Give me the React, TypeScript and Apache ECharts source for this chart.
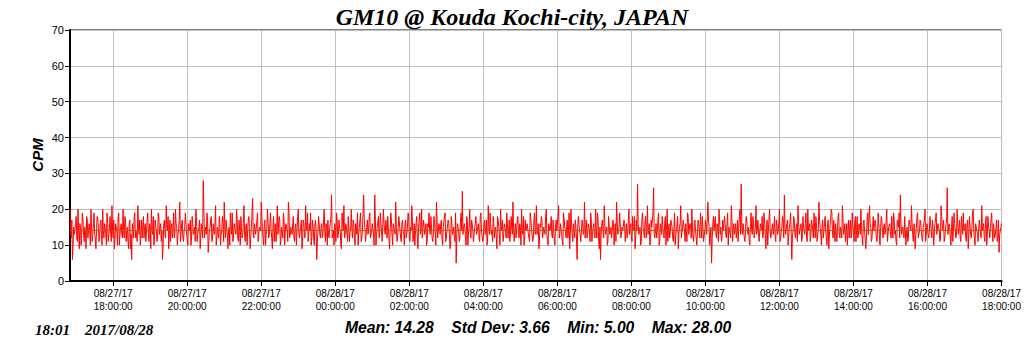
import React, { useEffect, useRef } from "react";
import * as echarts from "echarts";

// Time axis: minutes relative to 08/27/17 18:00:00, one sample every minute
const START_MIN = -70; // 16:50 on 08/27
const STEP_MIN = 1;
const AXIS_MIN = -70;
const AXIS_MAX = 1440;
const TICK_MINUTES = [0, 120, 240, 360, 480, 600, 720, 840, 960, 1080, 1200, 1320, 1440];

const TITLE = "GM10 @ Kouda Kochi-city, JAPAN";
const Y_NAME = "CPM";
const STATS = "Mean: 14.28    Std Dev: 3.66    Min: 5.00    Max: 28.00";
const STAMP = "18:01    2017/08/28";
const MEAN = 14.28;

// counts at even minutes (16:50, 16:52, ...)
const even1 = [20,12,6,15,13,18,11,14,16,10,19,13,15,9,17,12,14,20,11,16,13,9,18,15,12,17,10,14,16,13,
  19,11,15,13,21,12,9,16,14,18,10,15,13,20,12,17,14,11,16,9,6,15,18,12,14,21,13,10,17,15,
  12,16,14,19,11,15,20,13,10,17,14,12,18,15,11,6,16,13,21,14,9,17,15,12,19,13,16,10,14,22,
  13,17,11,15,19,12,16,14,10,18,13,15,20,11,14,17,9,16,28,12,15,19,8,14,17,11,16,13,21,12,
  15,18,10,14,16,22,12,17,9,15,19,13,11,16,14,20,12,17,10,15,13,21,11,16,14,18,9,15,23,12];
const even2 = [16,13,19,11,15,22,14,10,17,13,20,12,16,14,9,18,15,11,21,13,17,12,15,19,10,16,14,22,12,15,
  13,18,11,16,14,20,12,15,9,17,13,21,14,11,16,19,12,15,10,17,6,14,18,12,16,13,20,11,15,17,
  12,16,24,13,10,15,19,12,17,14,9,16,21,13,15,11,18,14,20,12,16,10,15,19,13,17,11,14,24,15,
  11,17,14,19,12,16,13,24,10,15,18,13,16,11,20,14,17,12,15,9,19,13,16,14,22,11,15,18,12,16,
  14,10,17,13,19,12,15,21,11,16,14,18,9,15,13,20,12,17,14,10,16,19,13,15,11,18,14,22,12,16];
const even3 = [13,17,10,15,19,12,14,16,9,18,13,15,11,5,16,14,12,19,25,13,15,10,17,14,20,12,16,11,15,18,
  13,16,11,19,14,12,17,15,10,21,13,16,14,18,12,15,9,17,13,20,15,11,16,14,19,12,17,13,15,22,
  11,16,14,18,12,15,20,13,10,17,14,16,12,19,15,11,17,13,21,14,9,16,18,12,15,13,20,11,16,14,
  18,12,15,10,17,14,21,13,16,11,19,15,12,17,14,9,20,13,16,12,15,6,18,14,11,17,13,22,15,12,
  16,14,19,11,15,13,20,12,17,9,6,16,14,21,13,15,11,18,14,12,17,10,16,22,13,15,19,12,14,17];
const even4 = [11,16,13,20,15,12,18,14,9,17,27,13,15,11,19,14,16,12,21,13,10,17,15,26,12,16,14,19,11,15,
  18,13,16,10,20,14,12,17,15,11,19,13,16,9,15,21,12,17,14,16,11,18,13,15,20,12,16,14,10,17,
  14,19,12,15,11,17,13,22,15,10,5,16,14,18,12,15,20,13,11,17,14,16,12,19,15,13,21,11,16,14,
  12,17,15,20,27,13,16,11,18,14,15,10,19,13,16,12,21,14,17,11,15,18,13,16,9,17,14,20,12,15,
  13,18,11,16,14,20,12,15,17,24,13,16,10,15,19,6,14,17,12,16,21,13,15,11,18,14,16,12,20,15];
const even5 = [11,17,14,19,12,16,13,22,15,10,17,14,18,12,16,9,15,20,13,17,11,16,14,19,12,15,21,13,16,14,
  10,17,15,12,19,14,16,11,18,13,15,20,12,16,14,9,17,13,21,15,12,18,14,16,11,19,13,15,17,12,
  16,14,20,11,15,13,18,12,17,14,10,16,19,24,13,15,12,18,14,11,17,15,21,13,16,9,15,19,12,17,
  14,11,16,20,13,15,12,18,14,17,10,16,19,13,15,11,21,14,17,12,16,26,13,15,10,18,14,16,12,20,
  13,17,11,15,19,14,12,16,9,18,13,15,20,12,16,14,11,17,13,21,15,12,16,10,18,14,15,19,11,16,
  13,17,12,8,14,16];

// counts at odd minutes (16:51, 16:53, ...)
const odd1 = [14,17,10,13,16,12,20,9,15,13,17,11,14,18,12,16,10,15,13,19,12,14,17,11,16,13,20,12,15,10,
  16,13,18,11,14,17,12,15,10,19,13,16,12,14,18,11,15,9,17,13,16,12,19,14,11,15,17,13,12,18,
  15,11,17,13,16,9,14,18,12,15,11,19,13,16,14,10,17,12,15,18,13,11,16,14,12,20,15,13,17,11,
  16,12,14,19,13,10,15,17,12,16,14,11,18,13,15,9,16,12,20,14,13,17,11,15,18,12,14,16,10,15,
  12,16,13,18,11,15,17,13,14,10,16,19,12,15,13,17,11,14,18,12,16,13,15,10,17,14,12,19,13,16];
const odd2 = [13,17,11,15,14,18,12,16,10,14,17,13,19,12,15,11,16,14,13,18,10,15,12,17,14,16,11,19,13,14,
  16,12,15,10,18,13,14,17,11,16,12,15,19,13,14,10,17,12,16,14,11,18,13,15,12,17,14,16,10,13,
  15,18,12,14,16,11,17,13,15,10,19,14,12,16,13,18,11,15,14,17,12,16,13,10,15,19,12,14,17,11,
  15,13,18,12,14,16,10,17,13,15,12,19,14,11,16,13,15,18,12,14,17,10,16,13,15,12,18,14,11,17,
  13,16,12,15,18,11,14,17,13,10,16,12,15,19,14,12,17,13,16,11,15,14,18,12,13,16,10,17,14,15];
const odd3 = [16,12,15,18,11,14,17,13,10,16,14,12,19,13,15,11,17,14,13,16,12,18,10,15,13,17,14,11,16,13,
  15,12,18,14,11,16,13,17,12,15,19,13,11,16,14,12,18,15,10,14,17,13,15,12,16,14,11,18,13,15,
  14,12,17,13,16,10,15,18,12,14,16,13,11,17,15,12,19,14,13,16,11,15,17,12,14,18,13,10,16,15,
  13,17,11,15,14,18,12,16,13,10,17,14,15,12,19,13,16,11,14,17,12,15,18,13,11,16,14,12,17,13,
  15,11,17,13,16,12,14,19,11,15,13,17,12,16,14,10,18,13,15,12,16,14,11,17,13,19,12,15,14,16];
const odd4 = [14,12,17,13,16,11,15,18,12,14,16,13,10,17,15,12,18,14,13,16,11,15,19,13,14,12,17,10,16,13,
  15,12,18,14,11,16,13,17,12,15,10,14,18,13,16,12,15,17,11,14,19,13,16,12,15,11,17,14,13,16,
  12,15,18,11,14,16,13,17,10,15,12,18,14,13,16,11,17,15,12,14,18,13,16,10,15,12,17,14,13,16,
  14,11,18,13,15,16,12,14,17,13,11,16,14,18,12,15,13,17,11,16,14,12,19,13,15,10,17,14,12,16,
  15,12,17,13,16,11,14,18,12,15,13,17,10,16,14,12,18,13,15,11,17,14,16,12,15,13,19,11,14,16];
const odd5 = [13,16,12,15,18,11,14,17,13,15,12,16,14,10,17,13,15,19,12,14,16,11,18,13,15,12,17,14,11,16,
  14,12,17,13,15,11,18,14,12,16,13,15,10,17,14,12,19,13,16,11,15,14,17,12,13,16,10,18,14,15,
  13,17,11,15,16,12,14,19,13,11,17,15,12,16,14,13,18,10,15,12,17,14,16,11,15,13,18,12,14,16,
  12,15,17,11,16,13,14,18,12,15,10,17,13,16,14,12,18,15,11,14,17,13,16,12,15,11,19,14,13,16,
  15,12,18,13,14,16,11,17,13,15,12,19,14,10,16,13,15,17,12,14,16,11,18,13,15,12,17,14,16,12,
  15,11,17,13,15];

const EVEN_VALUES = [...even1, ...even2, ...even3, ...even4, ...even5];
const ODD_VALUES = [...odd1, ...odd2, ...odd3, ...odd4, ...odd5];

function pad(n: number) {
  return n < 10 ? "0" + n : String(n);
}
function fmtTick(v: number) {
  const total = 18 * 60 + v;
  const day = 27 + Math.floor(total / 1440);
  const hh = Math.floor((total % 1440) / 60);
  const mm = total % 60;
  return "08/" + pad(day) + "/17\n" + pad(hh) + ":" + pad(mm) + ":00";
}

export default function App() {
  const ref = useRef<HTMLDivElement>(null);
  useEffect(() => {
    if (!ref.current) return;
    const chart = echarts.init(ref.current, null, { renderer: "svg" });
    const values: number[] = [];
    EVEN_VALUES.forEach((v, i) => {
      values.push(v);
      if (i < ODD_VALUES.length) values.push(ODD_VALUES[i]);
    });
    const data = values.map((v, i) => [START_MIN + i * STEP_MIN, v]);
    chart.setOption({
      animation: false,
      backgroundColor: "#ffffff",
      grid: {
        left: 70,
        right: 22,
        top: 30,
        bottom: 70,
        show: true,
        borderColor: "#000000",
        borderWidth: 1,
        backgroundColor: "transparent",
      },
      xAxis: {
        type: "value",
        min: AXIS_MIN,
        max: AXIS_MAX,
        axisLine: { show: true, onZero: false, lineStyle: { color: "#000", width: 2 } },
        axisTick: {
          show: true,
          length: 5,
          lineStyle: { color: "#000" },
          customValues: TICK_MINUTES,
        },
        axisLabel: {
          customValues: TICK_MINUTES,
          formatter: (v: number) => fmtTick(v),
          color: "#000",
          fontFamily: "Liberation Sans, Arial, sans-serif",
          fontSize: 10,
          lineHeight: 13,
          margin: 6,
        },
        splitLine: { show: true, lineStyle: { color: "#c0c0c0", width: 1 } },
      },
      yAxis: {
        type: "value",
        min: 0,
        max: 70,
        interval: 10,
        axisLine: { show: true, onZero: false, lineStyle: { color: "#000", width: 2 } },
        axisTick: { show: true, length: 5, lineStyle: { color: "#000" } },
        axisLabel: {
          color: "#000",
          fontFamily: "Liberation Sans, Arial, sans-serif",
          fontSize: 11,
          margin: 6,
        },
        splitLine: { show: true, lineStyle: { color: "#c0c0c0", width: 1 } },
      },
      series: [
        {
          type: "line",
          data,
          showSymbol: false,
          symbol: "none",
          lineStyle: { color: "#ff0000", width: 1 },
          z: 3,
          markLine: {
            silent: true,
            symbol: "none",
            label: { show: false },
            lineStyle: { color: "#b06010", width: 1, type: "solid" },
            data: [{ yAxis: MEAN }],
            z: 4,
          },
        },
      ],
      graphic: [
        {
          type: "text",
          x: 512,
          y: 17,
          style: {
            text: TITLE,
            fontFamily: "Liberation Serif, Times New Roman, serif",
            fontSize: 24,
            fontWeight: "bold",
            fontStyle: "italic",
            fill: "#000",
            align: "center",
            verticalAlign: "middle",
          },
        },
        {
          type: "text",
          x: 37,
          y: 155,
          rotation: Math.PI / 2,
          style: {
            text: Y_NAME,
            fontFamily: "Liberation Sans, Arial, sans-serif",
            fontSize: 15,
            fontWeight: "bold",
            fontStyle: "italic",
            fill: "#000",
            align: "center",
            verticalAlign: "middle",
          },
        },
        {
          type: "text",
          x: 538,
          y: 327,
          style: {
            text: STATS,
            fontFamily: "Liberation Sans, Arial, sans-serif",
            fontSize: 15.7,
            fontWeight: "bold",
            fontStyle: "italic",
            fill: "#000",
            align: "center",
            verticalAlign: "middle",
          },
        },
        {
          type: "text",
          x: 35,
          y: 330,
          style: {
            text: STAMP,
            fontFamily: "Liberation Serif, Times New Roman, serif",
            fontSize: 15,
            fontWeight: "bold",
            fontStyle: "italic",
            fill: "#000",
            align: "left",
            verticalAlign: "middle",
          },
        },
      ],
    });
    return () => chart.dispose();
  }, []);
  return (
    <div
      ref={ref}
      style={{ position: "fixed", left: 0, top: 0, width: 1024, height: 351 }}
    />
  );
}
